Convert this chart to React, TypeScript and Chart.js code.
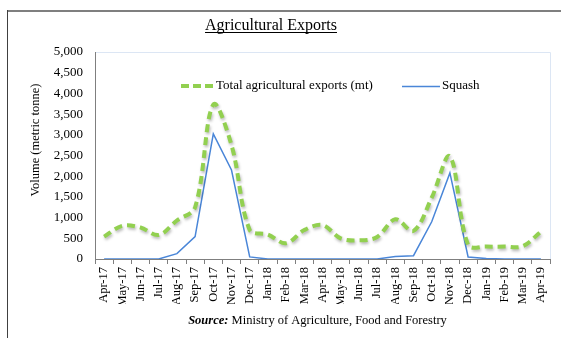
import React, { useEffect, useRef } from "react";
import { Chart, registerables } from "chart.js";

Chart.register(...registerables);

const categories = [
  "Apr-17", "May-17", "Jun-17", "Jul-17", "Aug-17", "Sep-17", "Oct-17", "Nov-17", "Dec-17",
  "Jan-18", "Feb-18", "Mar-18", "Apr-18", "May-18", "Jun-18", "Jul-18", "Aug-18", "Sep-18",
  "Oct-18", "Nov-18", "Dec-18", "Jan-19", "Feb-19", "Mar-19", "Apr-19",
];
const totalExports = [
  540, 800, 760, 580, 930, 1250, 3730, 2750, 700,
  590, 380, 700, 820, 500, 450, 530, 960, 680,
  1480, 2480, 340, 300, 300, 310, 660,
];
const squash = [
  0, 0, 0, 0, 130, 540, 3020, 2150, 50,
  0, 0, 0, 0, 0, 0, 0, 60, 80,
  900, 2080, 50, 10, 0, 0, 0,
];
const yMin = 0;
const yMax = 5000;
const yStep = 500;

const titleText = "Agricultural Exports";
const yTitle = "Volume (metric tonne)";
const legendTotal = "Total agricultural exports (mt)";
const legendSquash = "Squash";
const sourceLabel = "Source:";
const sourceText = " Ministry of Agriculture, Food and Forestry";

const SERIF = "'Liberation Serif', 'Times New Roman', serif";
const GREEN = "#92D050";
const BLUE = "#4A86D8";

const decor = {
  id: "decor",
  beforeDraw(chart: any) {
    const ctx = chart.ctx;
    const ca = chart.chartArea;
    ctx.save();
    ctx.fillStyle = "#ffffff";
    ctx.fillRect(0, 0, chart.width, chart.height);
    // outer frame
    ctx.strokeStyle = "#7f7f7f";
    ctx.lineWidth = 2;
    ctx.beginPath();
    ctx.moveTo(7, 11);
    ctx.lineTo(chart.width, 11);
    ctx.stroke();
    ctx.strokeStyle = "#404040";
    ctx.lineWidth = 1;
    ctx.beginPath();
    ctx.moveTo(7.5, 10);
    ctx.lineTo(7.5, chart.height);
    ctx.stroke();
    // plot area light border
    ctx.strokeStyle = "#DCE6F4";
    ctx.lineWidth = 1;
    ctx.beginPath();
    ctx.moveTo(ca.left, ca.top + 0.5);
    ctx.lineTo(ca.right + 0.5, ca.top + 0.5);
    ctx.lineTo(ca.right + 0.5, ca.bottom);
    ctx.stroke();
    ctx.restore();
  },
  beforeDatasetDraw(chart: any, args: any) {
    if (args.index === 0) {
      const ctx = chart.ctx;
      ctx.save();
      ctx.shadowColor = "rgba(0,0,0,0.28)";
      ctx.shadowBlur = 3;
      ctx.shadowOffsetX = 1;
      ctx.shadowOffsetY = 2;
    }
  },
  afterDatasetDraw(chart: any, args: any) {
    if (args.index === 0) chart.ctx.restore();
  },
  afterDraw(chart: any) {
    const ctx = chart.ctx;
    ctx.save();
    ctx.fillStyle = "#000";
    // title
    ctx.font = `16px ${SERIF}`;
    ctx.textAlign = "center";
    ctx.textBaseline = "alphabetic";
    const tx = 271;
    const ty = 30;
    ctx.fillText(titleText, tx, ty);
    const tw = ctx.measureText(titleText).width;
    ctx.strokeStyle = "#000";
    ctx.lineWidth = 1;
    ctx.beginPath();
    ctx.moveTo(tx - tw / 2, ty + 2.5);
    ctx.lineTo(tx + tw / 2, ty + 2.5);
    ctx.stroke();

    // y title
    ctx.save();
    ctx.translate(35.5, 140);
    ctx.rotate(-Math.PI / 2);
    ctx.font = `12.5px ${SERIF}`;
    ctx.textAlign = "center";
    ctx.textBaseline = "middle";
    ctx.fillText(yTitle, 0, 0);
    ctx.restore();

    // legend
    ctx.save();
    ctx.strokeStyle = GREEN;
    ctx.lineWidth = 4;
    ctx.setLineDash([8, 4]);
    ctx.beginPath();
    ctx.moveTo(181, 86);
    ctx.lineTo(213, 86);
    ctx.stroke();
    ctx.setLineDash([]);
    ctx.strokeStyle = BLUE;
    ctx.lineWidth = 1.5;
    ctx.beginPath();
    ctx.moveTo(402, 86.5);
    ctx.lineTo(440, 86.5);
    ctx.stroke();
    ctx.font = `13px ${SERIF}`;
    ctx.textAlign = "left";
    ctx.textBaseline = "middle";
    ctx.fillStyle = "#000";
    ctx.fillText(legendTotal, 216, 86);
    ctx.fillText(legendSquash, 442, 86);
    ctx.restore();

    // source
    ctx.font = `bold italic 12.5px ${SERIF}`;
    const w1 = ctx.measureText(sourceLabel).width;
    ctx.font = `12.5px ${SERIF}`;
    const w2 = ctx.measureText(sourceText).width;
    const sx = 317.5 - (w1 + w2) / 2;
    ctx.textAlign = "left";
    ctx.textBaseline = "alphabetic";
    ctx.font = `bold italic 12.5px ${SERIF}`;
    ctx.fillText(sourceLabel, sx, 324);
    ctx.font = `12.5px ${SERIF}`;
    ctx.fillText(sourceText, sx + w1, 324);
    ctx.restore();
  },
};

export default function App() {
  const canvasRef = useRef<HTMLCanvasElement | null>(null);

  useEffect(() => {
    const canvas = canvasRef.current;
    if (!canvas) return;
    const chart = new Chart(canvas, {
      type: "line",
      data: {
        labels: categories,
        datasets: [
          {
            label: legendTotal,
            data: totalExports,
            borderColor: GREEN,
            backgroundColor: GREEN,
            borderWidth: 4,
            borderDash: [8, 5],
            pointRadius: 0,
            tension: 0.35,
            fill: false,
          },
          {
            label: legendSquash,
            data: squash,
            borderColor: BLUE,
            backgroundColor: BLUE,
            borderWidth: 1.5,
            pointRadius: 0,
            tension: 0,
            fill: false,
          },
        ],
      },
      options: {
        responsive: false,
        animation: false,
        devicePixelRatio: 1,
        layout: { padding: { top: 52, right: 11, bottom: 34, left: 0 } },
        plugins: {
          legend: { display: false },
          title: { display: false },
          tooltip: { enabled: false },
        },
        scales: {
          x: {
            offset: true,
            grid: {
              offset: true,
              drawOnChartArea: false,
              drawTicks: true,
              tickLength: 5,
              color: "#7f7f7f",
            },
            border: { display: true, color: "#7f7f7f", width: 1 },
            ticks: {
              autoSkip: false,
              minRotation: 90,
              maxRotation: 90,
              padding: 3,
              color: "#000",
              font: { family: SERIF, size: 12.5 },
            },
            afterFit(scale: any) {
              scale.height = 45;
            },
          },
          y: {
            min: yMin,
            max: yMax,
            grid: { drawOnChartArea: false, drawTicks: false },
            border: { display: true, color: "#7f7f7f", width: 1 },
            ticks: {
              stepSize: yStep,
              padding: 12,
              color: "#000",
              font: { family: SERIF, size: 13 },
              callback: (v: any) => Number(v).toLocaleString("en-US"),
            },
            afterFit(scale: any) {
              scale.width = 95;
            },
          },
        },
      },
      plugins: [decor],
    });
    return () => chart.destroy();
  }, []);

  return (
    <div style={{ position: "absolute", left: 0, top: 0, width: 561, height: 338, background: "#fff" }}>
      <canvas ref={canvasRef} width={561} height={338} style={{ width: 561, height: 338, display: "block" }} />
    </div>
  );
}
